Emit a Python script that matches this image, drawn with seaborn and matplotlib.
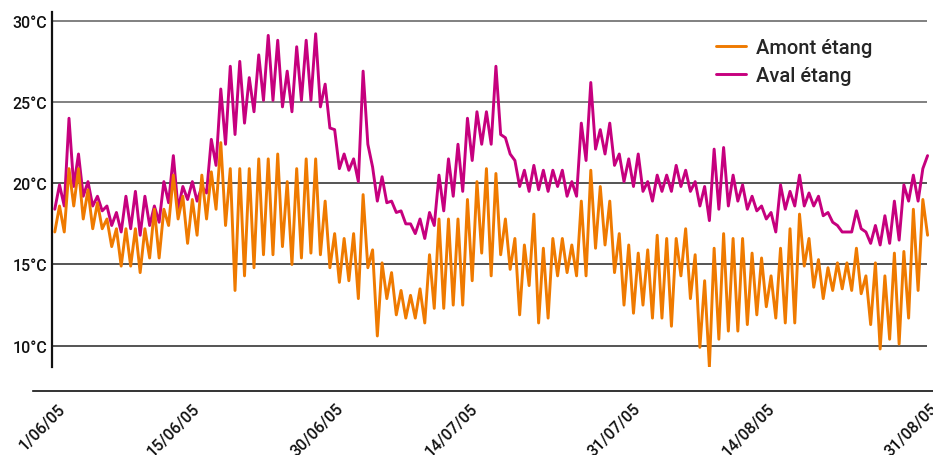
import matplotlib
matplotlib.use("Agg")
import matplotlib.pyplot as plt
import matplotlib.dates as mdates
import matplotlib.transforms as mtransforms
import pandas as pd
import seaborn as sns

# daily lows / highs (one cycle per day)
amont_lows = [17.0, 17.0, 18.6, 17.8, 17.2, 17.2, 16.1, 14.9, 14.9, 14.5,
              15.4, 15.4, 17.4, 17.8, 16.3, 16.8, 17.8, 18.4, 17.4, 13.4,
              14.3, 14.8, 15.6, 15.6, 16.1, 15.0, 15.4, 15.7, 15.6, 14.8,
              13.9, 14.0, 12.9, 14.8, 10.6, 12.9, 11.9, 11.7, 11.7, 11.4,
              12.3, 12.3, 12.5, 12.5, 14.0, 15.7, 14.3, 15.6, 14.7, 11.9,
              13.7, 11.4, 11.7, 14.3, 14.5, 14.3, 14.3, 16.0, 16.2, 14.5,
              12.5, 12.0, 12.5, 11.7, 11.7, 11.2, 14.3, 12.9, 9.9, 8.7,
              10.4, 10.9, 10.9, 11.3, 11.9, 12.4, 11.7, 11.4, 11.4, 14.9,
              13.6, 12.9, 13.4, 13.5, 13.4, 13.2, 11.3, 9.8, 10.4, 10.1,
              11.7, 13.4, 16.8]
amont_highs = [18.6, 20.9, 20.9, 19.6, 18.8, 17.8, 17.2, 17.2, 17.2, 17.2,
               18.4, 18.4, 20.5, 19.2, 19.0, 20.5, 20.7, 22.5, 20.9, 20.9,
               20.9, 21.5, 21.5, 21.8, 20.1, 20.9, 21.5, 21.5, 18.9, 16.9,
               16.6, 16.9, 19.3, 15.9, 15.1, 14.5, 13.4, 13.1, 13.5, 15.6,
               17.8, 17.8, 17.8, 19.0, 20.1, 20.9, 20.6, 17.8, 16.6, 16.2,
               18.1, 16.0, 16.6, 16.6, 16.2, 18.9, 20.8, 19.8, 18.9, 16.9,
               16.2, 15.7, 15.9, 16.8, 16.6, 16.6, 17.2, 15.6, 14.0, 16.0,
               16.9, 16.6, 16.6, 15.7, 15.4, 14.3, 16.0, 17.2, 18.1, 16.6,
               15.3, 14.8, 15.1, 15.1, 16.0, 14.3, 15.1, 14.3, 15.7, 15.8,
               18.4, 19.0]
aval_lows = [18.4, 18.6, 19.8, 19.2, 18.6, 18.3, 17.4, 17.0, 17.2, 16.8,
             17.4, 17.6, 18.8, 18.4, 19.0, 18.9, 19.4, 21.1, 22.4, 23.0,
             23.7, 24.4, 25.1, 25.1, 24.7, 24.4, 25.1, 25.1, 24.7, 23.4,
             20.9, 20.8, 20.1, 22.4, 18.9, 18.8, 18.2, 17.5, 16.9, 16.6,
             17.4, 18.3, 19.2, 19.5, 21.4, 22.4, 22.4, 23.0, 21.8, 19.8,
             19.5, 19.6, 19.5, 19.8, 19.2, 19.2, 21.4, 22.1, 21.8, 21.1,
             20.1, 19.8, 19.5, 18.9, 19.5, 19.5, 19.8, 19.5, 18.6, 17.7,
             18.4, 18.6, 18.9, 18.4, 18.3, 17.8, 17.0, 18.4, 18.6, 18.6,
             18.6, 18.0, 17.6, 17.0, 17.0, 17.2, 16.3, 16.2, 16.3, 16.5,
             18.9, 18.9, 21.7]
aval_highs = [19.9, 24.0, 21.8, 20.1, 19.2, 18.6, 18.2, 19.2, 19.5, 19.2,
              18.6, 20.1, 21.7, 19.8, 20.1, 19.8, 22.7, 25.8, 27.2, 27.5,
              26.5, 27.9, 29.1, 28.8, 26.9, 28.4, 28.8, 29.2, 26.1, 23.3,
              21.8, 21.5, 26.9, 21.0, 20.4, 18.9, 18.3, 17.5, 17.8, 18.2,
              20.5, 21.5, 22.4, 24.0, 24.4, 24.4, 27.2, 22.8, 21.4, 20.8,
              21.1, 20.8, 20.8, 20.8, 20.1, 23.7, 26.2, 23.3, 23.7, 21.8,
              21.5, 21.8, 20.1, 20.5, 20.5, 21.1, 20.8, 20.1, 19.8, 22.1,
              22.2, 20.5, 19.9, 19.2, 18.6, 18.2, 19.9, 19.5, 20.5, 19.4,
              19.2, 18.2, 17.4, 17.0, 18.3, 17.0, 17.4, 18.0, 18.9, 19.9,
              20.5, 20.9]

series_names = ["Amont étang", "Aval étang"]
series_colors = ["#EF7A00", "#C6007E"]
tick_dates = ["2005-06-01", "2005-06-15", "2005-06-30", "2005-07-14",
              "2005-07-31", "2005-08-14", "2005-08-31"]
tick_labels = ["1/06/05", "15/06/05", "30/06/05", "14/07/05",
               "31/07/05", "14/08/05", "31/08/05"]
y_ticks = [10, 15, 20, 25, 30]


def interleave(lows, highs):
    out = []
    for i, lo in enumerate(lows):
        out.append(lo)
        if i < len(highs):
            out.append(highs[i])
    return out


amont = interleave(amont_lows, amont_highs)
aval = interleave(aval_lows, aval_highs)
times = pd.date_range("2005-06-01 07:00", "2005-08-31 09:00", periods=len(amont))

df = pd.DataFrame({
    "time": list(times) * 2,
    "temp": amont + aval,
    "station": [series_names[0]] * len(amont) + [series_names[1]] * len(aval),
})

sns.set_style("white")
plt.rcParams["font.family"] = ["Roboto", "DejaVu Sans"]
plt.rcParams["font.weight"] = "medium"

fig, ax = plt.subplots(figsize=(9.33, 4.56), dpi=100)
fig.subplots_adjust(left=33 / 933, right=1.0, bottom=1 - 368 / 456, top=1 - 13 / 456)

sns.lineplot(data=df, x="time", y="temp", hue="station", palette=series_colors,
             linewidth=2.1, estimator=None, sort=False, ax=ax)
ax.lines[0].set_zorder(4)
ax.lines[1].set_zorder(3)
for ln in ax.lines[:2]:
    ln.set_solid_joinstyle("round")

start = pd.Timestamp("2005-06-01")
ax.set_xlim(start - pd.Timedelta(days=1.98), start + pd.Timedelta(days=91.94))
ax.set_ylim(8.69, 30.54)

# spines first: moving a spine resets the ticks
for s in ["top", "right"]:
    ax.spines[s].set_visible(False)
ax.spines["left"].set_position(("data", mdates.date2num(start)))
ax.spines["left"].set_linewidth(1.6)
ax.spines["left"].set_color("#111111")
ax.spines["bottom"].set_position(("outward", 17.3))
ax.spines["bottom"].set_linewidth(1.2)
ax.spines["bottom"].set_color("#111111")

# horizontal guides
grid_end = start + pd.Timedelta(days=91.3)
ax.hlines([25, 30], start, grid_end, colors="#808080", linewidth=1.4, zorder=1)
ax.hlines([10, 15, 20], start, grid_end, colors="#262626", linewidth=1.1, zorder=1)

ax.set_yticks(y_ticks)
ax.set_yticklabels([f"{v}°C" for v in y_ticks])
ax.set_xticks(pd.to_datetime(tick_dates))
ax.set_xticklabels(tick_labels, rotation=45, ha="right", rotation_mode="anchor")
ax.tick_params(axis="y", length=0, pad=3.5, labelsize=11.5, labelcolor="#111111")
ax.tick_params(axis="x", direction="inout", length=6, width=1.3, pad=4,
               labelsize=11.5, labelcolor="#111111")

# nudge the slanted date labels a little to the right
shift = mtransforms.ScaledTranslation(6 / 100, 0, fig.dpi_scale_trans)
for lbl in ax.get_xticklabels():
    lbl.set_transform(lbl.get_transform() + shift)

ax.set_xlabel("")
ax.set_ylabel("")

ax.legend(loc="upper left", bbox_to_anchor=(716 / 933, 1 - 39 / 456),
          bbox_transform=fig.transFigure, frameon=False, fontsize=14.5,
          handlelength=1.5, handletextpad=0.5, labelspacing=0.45,
          borderpad=0, borderaxespad=0)

fig.savefig("out.png", dpi=100)
